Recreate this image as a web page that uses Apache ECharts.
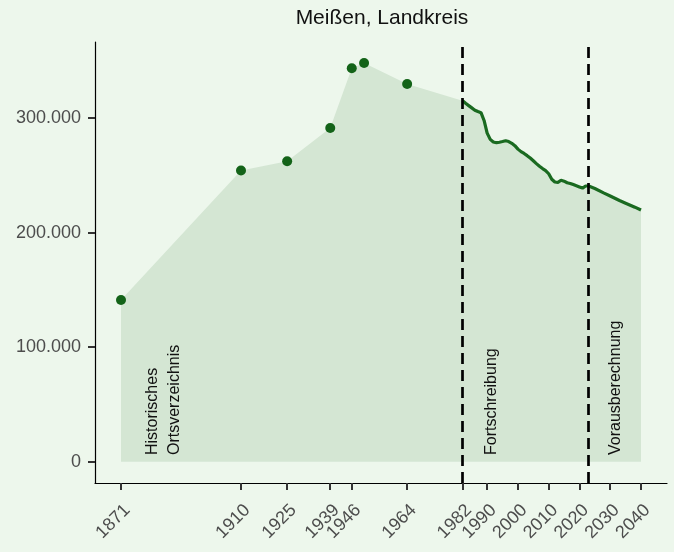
<!DOCTYPE html>
<html>
<head>
<meta charset="utf-8">
<script src="https://cdn.jsdelivr.net/npm/echarts@6/dist/echarts.min.js"></script>
<style>
html,body{margin:0;padding:0;background:#edf7ec;}
#chart{width:674px;height:552px;}
</style>
</head>
<body>
<div id="chart"></div>
<script>
// Historical census points (Historisches Ortsverzeichnis)
const histYears = [1871, 1910, 1925, 1939, 1946, 1950, 1964];
const histValues = [141200, 254300, 262400, 291400, 343700, 348200, 329900];

// Fortschreibung (annual)
const fortYears = [1982,1983,1984,1985,1986,1987,1988,1989,1990,1991,1992,1993,1994,1995,1996,1997,1998,1999,2000,2001,2002,2003,2004,2005,2006,2007,2008,2009,2010,2011,2012,2013,2014,2015,2016,2017,2018,2019,2020,2021,2022];
const fortValues = [315300,313000,311000,309000,307000,305800,304800,298000,287000,281500,279200,278600,279000,279600,280300,279600,278100,276000,273000,270800,269200,267300,265200,262800,260300,258000,256000,254300,251500,246700,244300,244000,245800,245000,243600,243000,242000,241000,240000,239000,240800];

// Vorausberechnung (projection)
const projYears = [2023,2025,2028,2030,2033,2035,2038,2040];
const projValues = [240800,238600,234600,232000,228100,225800,222300,219800];

// Axis ticks
const xTicks = [1871,1910,1925,1939,1946,1964,1982,1990,2000,2010,2020,2030,2040];
const yTicks = [0,100000,200000,300000];

// Period boundaries (dashed lines)
const boundaries = [1982, 2023];

// Annotation texts
const annoTexts = ['Historisches\nOrtsverzeichnis', 'Fortschreibung', 'Vorausberechnung'];
const annoYears = [1884.75, 1991.6, 2031.9];
const annoBase = 5850;

const hist = histYears.map((y,i)=>[y, histValues[i]]);
const fort = fortYears.map((y,i)=>[y, fortValues[i]]);
const proj = projYears.map((y,i)=>[y, projValues[i]]);
const lineData = fort.concat(proj);
const areaData = hist.concat(lineData);

const fmt = v => String(v).replace(/\B(?=(\d{3})+(?!\d))/g, '.');

const chart = echarts.init(document.getElementById('chart'), null, {renderer:'canvas'});
chart.setOption({
  backgroundColor: '#edf7ec',
  animation: false,
  textStyle: {fontFamily: 'Liberation Sans'},
  title: {
    text: 'Meißen, Landkreis',
    left: 382, top: 8, padding: 0,
    textAlign: 'center',
    textStyle: {fontFamily:'Liberation Sans', fontSize: 21, fontWeight: 'normal', color: '#111'}
  },
  grid: {left: 95, right: 7, top: 42, bottom: 69, containLabel: false},
  xAxis: {
    type: 'value',
    min: 1862.55, max: 2048.45,
    splitLine: {show: false},
    axisLine: {show: true, onZero: false, lineStyle: {color: '#000', width: 1.2}},
    axisTick: {show: true, customValues: xTicks, length: 7, lineStyle: {color: '#333', width: 2}},
    axisLabel: {
      customValues: xTicks, rotate: 45, margin: 18,
      fontFamily: 'Liberation Sans', fontSize: 18, color: '#4d4d4d',
      align: 'right', verticalAlign: 'top',
      formatter: v => String(v)
    }
  },
  yAxis: {
    type: 'value',
    min: -18600, max: 366550,
    splitLine: {show: false},
    axisLine: {show: true, onZero: false, lineStyle: {color: '#000', width: 1.2}},
    axisTick: {show: true, customValues: yTicks, length: 7, lineStyle: {color: '#333', width: 2}},
    axisLabel: {
      customValues: yTicks, margin: 14,
      fontFamily: 'Liberation Sans', fontSize: 18, color: '#4d4d4d',
      formatter: v => fmt(v)
    }
  },
  series: [
    {
      name: 'area', type: 'line', data: areaData,
      symbol: 'none', lineStyle: {width: 0},
      areaStyle: {color: '#d4e6d3', opacity: 1},
      silent: true, z: 1
    },
    {
      name: 'hist', type: 'scatter', data: hist,
      symbolSize: 10, itemStyle: {color: '#136318', opacity: 1}, z: 4
    },
    {
      name: 'line', type: 'line', data: lineData,
      symbol: 'none', lineStyle: {color: '#1a6a20', width: 3.2}, z: 4,
      markLine: {
        silent: true, symbol: ['none','none'], label: {show: false},
        lineStyle: {color: '#000', width: 2.7, type: [11,6]},
        data: boundaries.map(b => ({xAxis: b}))
      }
    },
    {
      name: 'anno', type: 'scatter', silent: true, z: 5,
      symbolSize: 1, itemStyle: {color: 'rgba(0,0,0,0)', opacity: 1},
      data: annoYears.map((y,i)=>({value:[y, annoBase], name: annoTexts[i]})),
      label: {
        show: true, position: 'inside', rotate: 90,
        align: 'left', verticalAlign: 'middle',
        formatter: p => p.name,
        fontFamily: 'Liberation Sans', fontSize: 16, lineHeight: 22, color: '#111'
      }
    }
  ]
});
</script>
</body>
</html>
